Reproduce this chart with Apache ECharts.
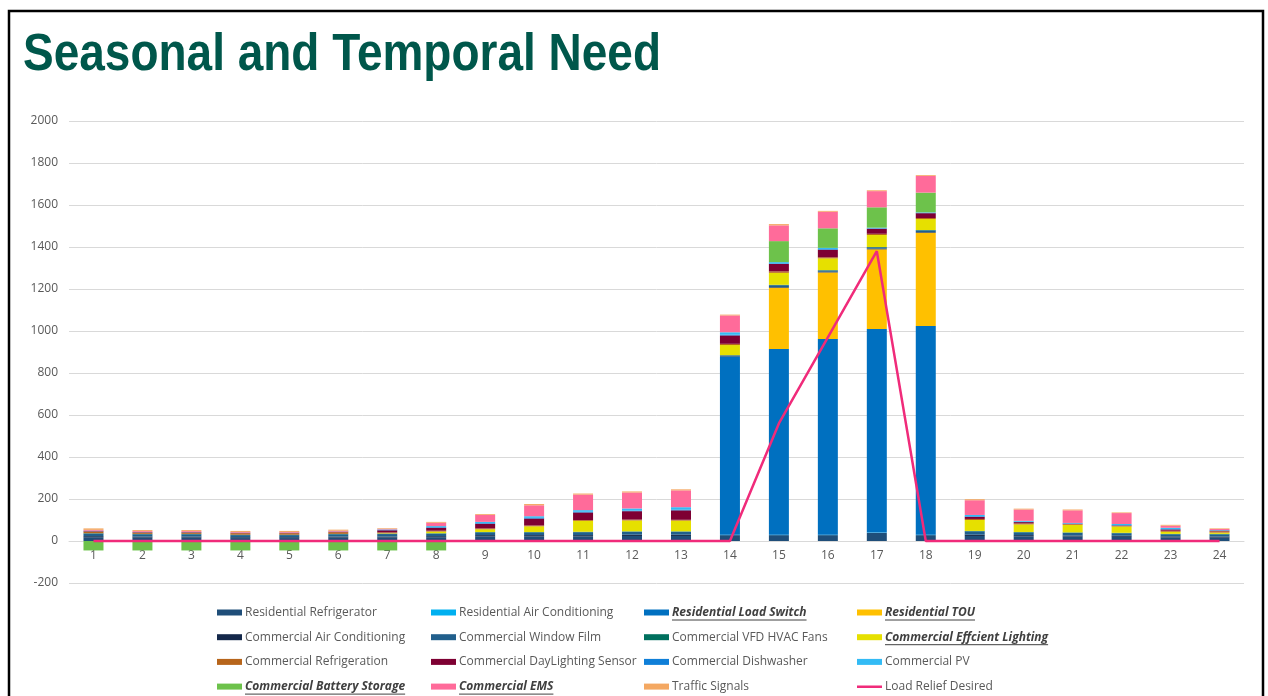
<!DOCTYPE html>
<html>
<head>
<meta charset="utf-8">
<script src="https://cdn.jsdelivr.net/npm/echarts@6/dist/echarts.min.js"></script>
<style>
  html, body { margin: 0; padding: 0; background: #fff; }
  #chart { width: 1268px; height: 696px; }
</style>
</head>
<body>
<div id="chart"></div>
<script>
// Hour of day categories
const hours = ['1','2','3','4','5','6','7','8','9','10','11','12','13','14','15','16','17','18','19','20','21','22','23','24'];

// Load reduction by measure for each hour
const resRefrigerator    = [18,16,16,14,14,16,16,18,22,22,22,24,24,28,28,28,38,28,24,22,21,20,17,16];
const resAirConditioning = [0,0,0,0,0,0,0,0,0,0,0,0,0,2,2,2,2,2,0,0,0,0,0,0];
const resLoadSwitch      = [0,0,0,0,0,0,0,0,0,0,0,0,0,848,884,932,969,994,0,0,0,0,0,0];
const resTOU             = [0,0,0,0,0,0,0,0,0,0,0,0,0,0,292,317,380,444,0,0,0,0,0,0];
const comAirConditioning = [5,5,5,4,4,5,5,5,6,6,6,6,6,2,3,3,3,3,6,6,5,5,5,5];
const comWindowFilm      = [12,11,11,10,10,11,12,12,13,13,14,14,14,4,9,6,6,8,16,13,13,12,10,10];
const comVfdFans         = [2,2,2,2,2,2,2,2,2,2,2,2,2,1,2,2,2,2,2,2,2,2,2,3];
const comLighting        = [0,0,0,0,0,0,2,8,13,27,52,52,51,48,57,56,57,52,52,36,36,30,10,6];
const comRefrigeration   = [8,6,6,7,7,8,4,4,4,4,4,4,4,6,7,5,6,5,5,5,3,3,5,6];
const comDaylighting     = [2,2,2,2,2,2,10,14,22,33,36,40,45,40,35,36,24,23,10,6,2,2,6,3];
const comDishwasher      = [2,1,1,1,1,1,2,3,3,3,3,3,4,3,3,3,2,2,3,2,2,2,2,2];
const comPV              = [0,0,0,0,0,0,2,5,6,8,8,10,11,12,6,6,3,2,6,4,2,5,6,1];
const comBatteryStorage  = [-45,-45,-45,-45,-45,-45,-45,-45,0,0,0,0,0,0,100,93,97,94,0,0,0,0,0,0];
const comEMS             = [4,4,4,3,3,4,3,16,33,52,74,76,80,80,75,79,77,79,70,54,60,52,10,5];
const trafficSignals     = [7,5,5,5,5,5,3,4,4,6,5,5,5,4,6,4,4,4,5,4,4,3,4,3];
const loadReliefDesired  = [0,0,0,0,0,0,0,0,0,0,0,0,0,0,560,970,1380,0,0,0,0,0,0,0];

// Value axis range
const yMin = -200, yMax = 2000, yStep = 200;

// Stacked measures, bottom to top
const measures = [
  { name: 'Residential Refrigerator',       data: resRefrigerator,    color: '#1F4E79' },
  { name: 'Residential Air Conditioning',   data: resAirConditioning, color: '#00B0F0' },
  { name: 'Residential Load Switch',        data: resLoadSwitch,      color: '#0070C0', key: true },
  { name: 'Residential TOU',                data: resTOU,             color: '#FFC000', key: true },
  { name: 'Commercial Air Conditioning',    data: comAirConditioning, color: '#14284A' },
  { name: 'Commercial Window Film',         data: comWindowFilm,      color: '#215F8C' },
  { name: 'Commercial VFD HVAC Fans',       data: comVfdFans,         color: '#00705E' },
  { name: 'Commercial Effcient Lighting',   data: comLighting,        color: '#E6E000', key: true },
  { name: 'Commercial Refrigeration',       data: comRefrigeration,   color: '#B7651B' },
  { name: 'Commercial DayLighting Sensor',  data: comDaylighting,     color: '#7E0033' },
  { name: 'Commercial Dishwasher',          data: comDishwasher,      color: '#0F7FD8' },
  { name: 'Commercial PV',                  data: comPV,              color: '#33BBF5' },
  { name: 'Commercial Battery Storage',     data: comBatteryStorage,  color: '#6DC24B', key: true },
  { name: 'Commercial EMS',                 data: comEMS,             color: '#FF6B9A', key: true },
  { name: 'Traffic Signals',                data: trafficSignals,     color: '#F4A862' }
];
const reliefColor = '#F02B7A';

// Legend laid out in four columns
const legendColumns = [
  ['Residential Refrigerator', 'Commercial Air Conditioning', 'Commercial Refrigeration', 'Commercial Battery Storage'],
  ['Residential Air Conditioning', 'Commercial Window Film', 'Commercial DayLighting Sensor', 'Commercial EMS'],
  ['Residential Load Switch', 'Commercial VFD HVAC Fans', 'Commercial Dishwasher', 'Traffic Signals'],
  ['Residential TOU', 'Commercial Effcient Lighting', 'Commercial PV', 'Load Relief Desired']
];
const legendLefts = [217, 431, 644, 857];
const legendTop = 605.5;
const rowH = 14, rowGap = 10.7;
const iconW = 25, iconH = 6;

const textFont = "'Open Sans', 'Liberation Sans', sans-serif";
const keyNames = measures.filter(m => m.key).map(m => m.name);
const keyStyle = { fontStyle: 'italic', fontWeight: 'bold', color: '#404040' };

const legends = legendColumns.map((col, ci) => ({
  orient: 'vertical',
  left: legendLefts[ci],
  top: legendTop,
  height: 200,
  padding: 0,
  itemWidth: iconW,
  itemHeight: iconH,
  itemGap: rowGap,
  selectedMode: false,
  icon: 'rect',
  textStyle: { fontFamily: textFont, fontSize: 12, color: '#595959', lineHeight: rowH, padding: [0, 0, 0, -2] },
  data: col.map(n => {
    const item = { name: n };
    if (keyNames.includes(n)) item.textStyle = keyStyle;
    if (n === 'Load Relief Desired') item.icon = 'path://M0,0H1V0Z M0,2H25V4.4H0Z M0,6H1V6Z';
    return item;
  })
}));

// Underlines beneath the key-measure legend labels
const ctx2d = document.createElement('canvas').getContext('2d');
ctx2d.font = "italic bold 12px 'Open Sans'";
const underlines = [];
legendColumns.forEach((col, ci) => {
  col.forEach((n, ri) => {
    if (!keyNames.includes(n)) return;
    const x0 = legendLefts[ci] + iconW + 3;
    const w = ctx2d.measureText(n).width;
    const y = legendTop + rowH / 2 + ri * (rowH + rowGap) + 7.5;
    underlines.push({
      type: 'line', silent: true,
      shape: { x1: x0, y1: y, x2: x0 + w, y2: y },
      style: { stroke: '#404040', lineWidth: 1 }
    });
  });
});

// Title: bold narrow sans, stretched to its set width
const titleText = 'Seasonal and Temporal Need';
const titleFont = "bold 51px 'Liberation Sans'";
ctx2d.font = titleFont;
const titleScale = 638 / ctx2d.measureText(titleText).width;

const series = measures.map(m => ({
  name: m.name,
  type: 'bar',
  stack: 'total',
  barWidth: 20,
  data: m.data,
  itemStyle: { color: m.color },
  emphasis: { disabled: true }
}));
series.push({
  name: 'Load Relief Desired',
  type: 'line',
  data: loadReliefDesired,
  symbol: 'none',
  z: 5,
  lineStyle: { color: reliefColor, width: 2.5 },
  itemStyle: { color: reliefColor },
  emphasis: { disabled: true }
});

const gridTop = 121, gridBottom = 113, plotH = 696 - gridTop - gridBottom;

const chart = echarts.init(document.getElementById('chart'), null, { renderer: 'canvas' });
chart.setOption({
  animation: false,
  backgroundColor: '#ffffff',
  grid: { left: 69, right: 24, top: gridTop, bottom: gridBottom, containLabel: false },
  xAxis: {
    type: 'category',
    data: hours,
    // place the category axis on the zero line
    offset: -plotH * (0 - yMin) / (yMax - yMin),
    axisLine: { show: true, onZero: false, lineStyle: { color: '#D9D9D9', width: 1 } },
    axisTick: { show: false },
    axisLabel: { color: '#595959', fontFamily: textFont, fontSize: 12, margin: 9 }
  },
  yAxis: {
    type: 'value',
    min: yMin,
    max: yMax,
    interval: yStep,
    axisLine: { show: false },
    axisTick: { show: false },
    axisLabel: { color: '#595959', fontFamily: textFont, fontSize: 12, margin: 11, formatter: v => String(v) },
    splitLine: { lineStyle: { color: '#D9D9D9', width: 1 } }
  },
  legend: legends,
  graphic: [
    {
      type: 'text', silent: true,
      x: 23, y: 30,
      scaleX: titleScale,
      style: { text: titleText, font: titleFont, fill: '#00574B', verticalAlign: 'top' }
    },
    {
      type: 'rect', silent: true, z: 100,
      shape: { x: 9, y: 11, width: 1254, height: 700 },
      style: { fill: 'none', stroke: '#000', lineWidth: 2.5 }
    }
  ].concat(underlines),
  series: series
});
</script>
</body>
</html>
